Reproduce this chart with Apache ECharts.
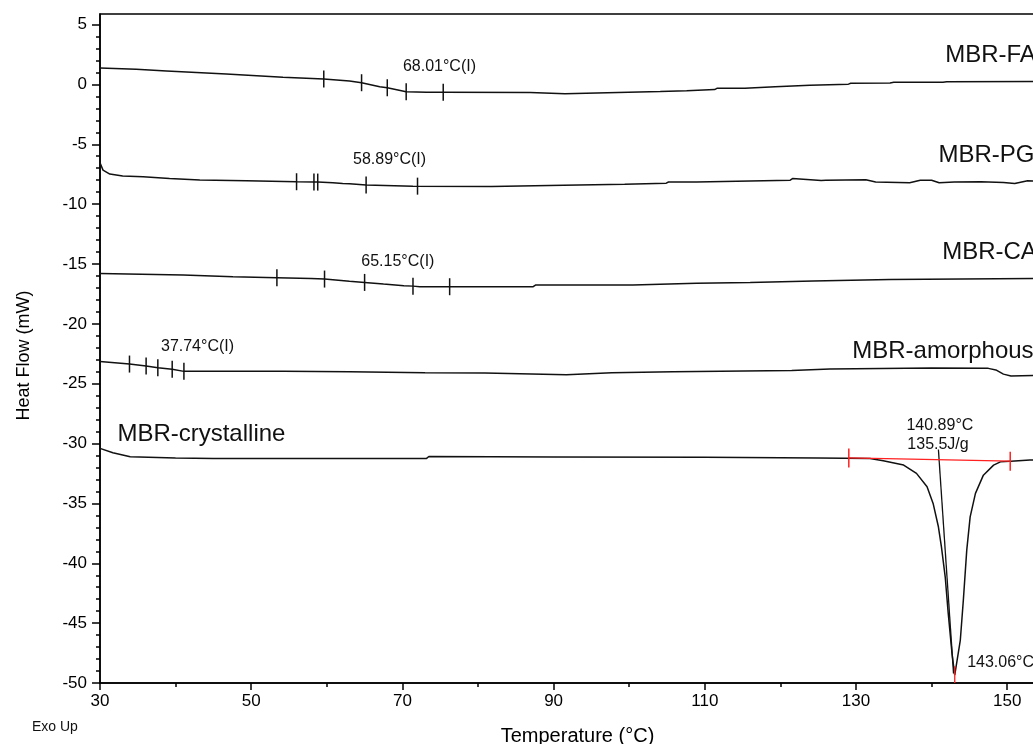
<!DOCTYPE html>
<html>
<head>
<meta charset="utf-8">
<script src="https://cdn.jsdelivr.net/npm/echarts@6/dist/echarts.min.js"></script>
<style>
html,body{margin:0;padding:0;background:#fff;overflow:hidden;}
#chart{width:1033px;height:744px;}
</style>
</head>
<body>
<div id="chart"></div>
<script>
// ---------- data (temperature °C, heat flow mW) ----------
var faData = [[30.0,1.36],[30.1,1.34],[34.8,1.26],[38.8,1.12],[46.7,0.86],[54.2,0.59],[59.6,0.45],[63.0,0.28],[64.6,0.14],[67.0,-0.2],[68.0,-0.28],[70.5,-0.61],[73.2,-0.66],[75.4,-0.66],[86.9,-0.68],[87.1,-0.79],[91.5,-0.79],[91.7,-0.68],[99.9,-0.66],[100.1,-0.6],[104.1,-0.6],[104.3,-0.53],[107.6,-0.53],[107.8,-0.43],[111.3,-0.43],[111.6,-0.33],[115.3,-0.33],[115.5,-0.22],[119.3,-0.2],[119.5,-0.1],[123.9,-0.08],[124.1,0.0],[129.0,0.02],[129.3,0.09],[134.5,0.12],[135.0,0.17],[141.5,0.18],[142.0,0.22],[155,0.24]];
var pgData = [[30.0,-6.55],[30.4,-7.16],[31.3,-7.49],[33.0,-7.66],[35.7,-7.71],[39.2,-7.85],[43.2,-7.99],[49.35,-8.05],[56.0,-8.13],[58.3,-8.15],[58.8,-8.16],[60.8,-8.22],[62.1,-8.27],[63,-8.3],[65.2,-8.41],[71.4,-8.5],[81.8,-8.52],[82.0,-8.43],[91.3,-8.43],[91.5,-8.35],[99.4,-8.35],[99.65,-8.25],[104.9,-8.25],[105.2,-8.15],[108.9,-8.15],[109.1,-8.0],[121.3,-8.0],[121.6,-7.87],[121.8,-8.0],[125.4,-8.02],[125.6,-8.15],[126.0,-8.0],[131.3,-7.97],[132.6,-8.15],[137.1,-8.22],[138.5,-8.0],[140.0,-8.0],[141.0,-8.22],[143.0,-8.15],[146.5,-8.13],[149.5,-8.2],[151.0,-8.28],[152.7,-8.05],[155,-8.08]];
var caData = [[30.0,-15.8],[41.0,-15.93],[47.6,-16.07],[53.4,-16.15],[57.9,-16.22],[59.7,-16.26],[63.0,-16.45],[65.0,-16.54],[67.5,-16.68],[70.2,-16.82],[71.4,-16.85],[72.3,-16.9],[76.25,-16.9],[87.3,-16.9],[87.6,-16.76],[100.5,-16.76],[100.75,-16.62],[108.9,-16.62],[109.1,-16.54],[116.0,-16.54],[116.2,-16.43],[124.35,-16.43],[124.6,-16.32],[134.5,-16.3],[134.7,-16.2],[155,-16.2]];
var amData = [[30.0,-23.15],[33.9,-23.36],[36.1,-23.53],[37.65,-23.67],[39.55,-23.8],[41.1,-23.97],[54.2,-23.97],[63.0,-24.0],[73.0,-24.09],[80.9,-24.1],[81.1,-24.2],[91.7,-24.25],[91.9,-24.14],[97.7,-24.09],[97.9,-24.0],[105.8,-24.0],[106.0,-23.92],[121.5,-23.9],[121.7,-23.78],[126.55,-23.78],[126.8,-23.67],[140,-23.68],[147.5,-23.72],[148.5,-23.85],[149.5,-24.2],[150.5,-24.35],[155,-24.3]];
var crData = [[30.0,-30.4],[30.2,-30.49],[31.7,-30.77],[34.0,-31.1],[40.0,-31.2],[45.0,-31.24],[73.2,-31.24],[73.5,-31.08],[90,-31.12],[110,-31.15],[125,-31.2],[131.85,-31.24],[133.6,-31.44],[136.3,-31.8],[138.0,-32.49],[139.4,-33.61],[140.2,-35.0],[140.9,-36.95],[141.3,-38.63],[141.8,-41.13],[142.2,-44.19],[142.7,-47.53],[143.06,-49.35],[143.3,-49.2],[143.8,-46.41],[144.2,-43.07],[144.65,-38.9],[145.1,-36.12],[145.8,-34.16],[146.85,-32.64],[148.2,-31.8],[149.1,-31.53],[151,-31.45],[153,-31.38],[155,-31.35]];

// analysis cursor marks on the curves
var faMarks = [[59.6,0.45],[64.6,0.14],[68.0,-0.28],[70.5,-0.61],[75.4,-0.66]];
var pgMarks = [[56.0,-8.13],[58.3,-8.15],[58.8,-8.16],[65.2,-8.41],[72.0,-8.5]];
var caMarks = [[53.4,-16.15],[59.7,-16.26],[65.0,-16.54],[71.4,-16.85],[76.25,-16.9]];
var amMarks = [[33.9,-23.36],[36.1,-23.53],[37.65,-23.67],[39.55,-23.8],[41.1,-23.97]];

// melting peak analysis (crystalline)
var peakBaseline = [[129.05,-31.2],[150.4,-31.47]];
var onsetTangent = [[140.9,-30.5],[142.9,-49.2]];
var peakMarker = [[143.06,-48.6],[143.06,-50]];

// text labels: [T, value, text]
var seriesNames = [[141.8,2.45,'MBR-FA'],[140.9,-5.9,'MBR-PG'],[141.4,-14.0,'MBR-CA'],[129.5,-22.3,'MBR-amorphous'],[32.3,-29.2,'MBR-crystalline']];
var tgLabels = [[74.9,1.47,'68.01°C(I)'],[68.3,-6.32,'58.89°C(I)'],[69.4,-14.84,'65.15°C(I)'],[42.9,-21.92,'37.74°C(I)']];
var peakLabelsCenter = [[141.1,-28.46,'140.89°C'],[140.85,-30.1,'135.5J/g']];
var peakLabelsLeft = [[144.7,-48.3,'143.06°C']];

// axis ticks
var xMajor = [30,50,70,90,110,130,150];
var xMinor = [40,60,80,100,120,140];
var yMajor = [-50,-45,-40,-35,-30,-25,-20,-15,-10,-5,0,5];
var yMinor = [];
for (var i = -49; i <= 5; i++) { if (i % 5 !== 0) yMinor.push(i); }

var FONT = '"Liberation Sans", Arial, sans-serif';
var chart = echarts.init(document.getElementById('chart'), null, {renderer:'canvas'});

function curve(data){
  return {type:'line', data:data, showSymbol:false, symbol:'none', smooth:false,
    lineStyle:{color:'#111', width:1.5}, xAxisIndex:0, yAxisIndex:0, z:3, silent:true};
}
function marks(data, color, h){
  return {type:'scatter', data:data, symbol:'rect', symbolSize:[1.5, h],
    itemStyle:{color:color, opacity:1}, xAxisIndex:0, yAxisIndex:0, z:4, silent:true};
}
function labels(data, align, size){
  return {type:'scatter', symbolSize:0, xAxisIndex:0, yAxisIndex:0, z:5, silent:true,
    itemStyle:{opacity:1},
    data:data.map(function(d){return {value:[d[0],d[1]], name:d[2]};}),
    label:{show:true, position:'inside', formatter:'{b}', color:'#111', fontFamily:FONT,
      fontSize:size, align:align, verticalAlign:'middle'}};
}

var option = {
  backgroundColor:'#fff',
  animation:false,
  grid:{left:100, width:945, top:14, bottom:61, outerBoundsMode:'none', containLabel:false,
    show:true, borderColor:'#000', borderWidth:1.5, backgroundColor:'transparent'},
  xAxis:[{
    type:'value', min:30, max:155, interval:20, position:'bottom',
    axisLine:{show:true, onZero:false, lineStyle:{color:'#000', width:1.5}},
    axisTick:{show:true, inside:false, length:7, customValues:xMajor, lineStyle:{color:'#000', width:1.5}},
    axisLabel:{show:true, customValues:xMajor, fontSize:17, color:'#000', fontFamily:FONT, margin:10},
    splitLine:{show:false},
    name:'Temperature (°C)', nameLocation:'middle', nameGap:43,
    nameTextStyle:{fontSize:20, color:'#000', fontFamily:FONT, padding:[0,0,0,10]}
  },{
    type:'value', min:30, max:155, interval:20, position:'bottom',
    axisLine:{show:false, onZero:false},
    axisTick:{show:true, inside:false, length:4, customValues:xMinor, lineStyle:{color:'#000', width:1.5}},
    axisLabel:{show:false}, splitLine:{show:false}
  }],
  yAxis:[{
    type:'value', min:-50, max:5.88, interval:5, position:'left',
    axisLine:{show:true, onZero:false, lineStyle:{color:'#000', width:1.5}},
    axisTick:{show:true, inside:false, length:8, customValues:yMajor, lineStyle:{color:'#000', width:1.5}},
    axisLabel:{show:true, customValues:yMajor, fontSize:17, color:'#000', fontFamily:FONT, margin:13},
    splitLine:{show:false},
    name:'Heat Flow (mW)', nameLocation:'middle', nameRotate:90, nameGap:67,
    nameTextStyle:{fontSize:18, color:'#000', fontFamily:FONT, padding:[0,14,0,0]}
  },{
    type:'value', min:-50, max:5.88, interval:5, position:'left',
    axisLine:{show:false, onZero:false},
    axisTick:{show:true, inside:false, length:4, customValues:yMinor, lineStyle:{color:'#000', width:1.5}},
    axisLabel:{show:false}, splitLine:{show:false}
  }],
  graphic:[{type:'text', left:32, top:720, style:{text:'Exo Up', font:'14px "Liberation Sans", Arial, sans-serif', fill:'#111'}}],
  series:[
    curve(faData), curve(pgData), curve(caData), curve(amData), curve(crData),
    {type:'line', data:onsetTangent, showSymbol:false, symbol:'none', lineStyle:{color:'#111', width:1.3}, z:3, silent:true},
    {type:'line', data:peakBaseline, showSymbol:false, symbol:'none', lineStyle:{color:'#ff2020', width:1.3}, z:4, silent:true},
    {type:'line', data:peakMarker, showSymbol:false, symbol:'none', lineStyle:{color:'#ff2020', width:1.3}, z:4, silent:true},
    marks(peakBaseline, '#ff2020', 19),
    marks(faMarks, '#111', 17), marks(pgMarks, '#111', 17), marks(caMarks, '#111', 17), marks(amMarks, '#111', 17),
    labels(seriesNames, 'left', 24),
    labels(tgLabels, 'center', 16),
    labels(peakLabelsCenter, 'center', 16),
    labels(peakLabelsLeft, 'left', 16)
  ]
};
chart.setOption(option);
</script>
</body>
</html>
